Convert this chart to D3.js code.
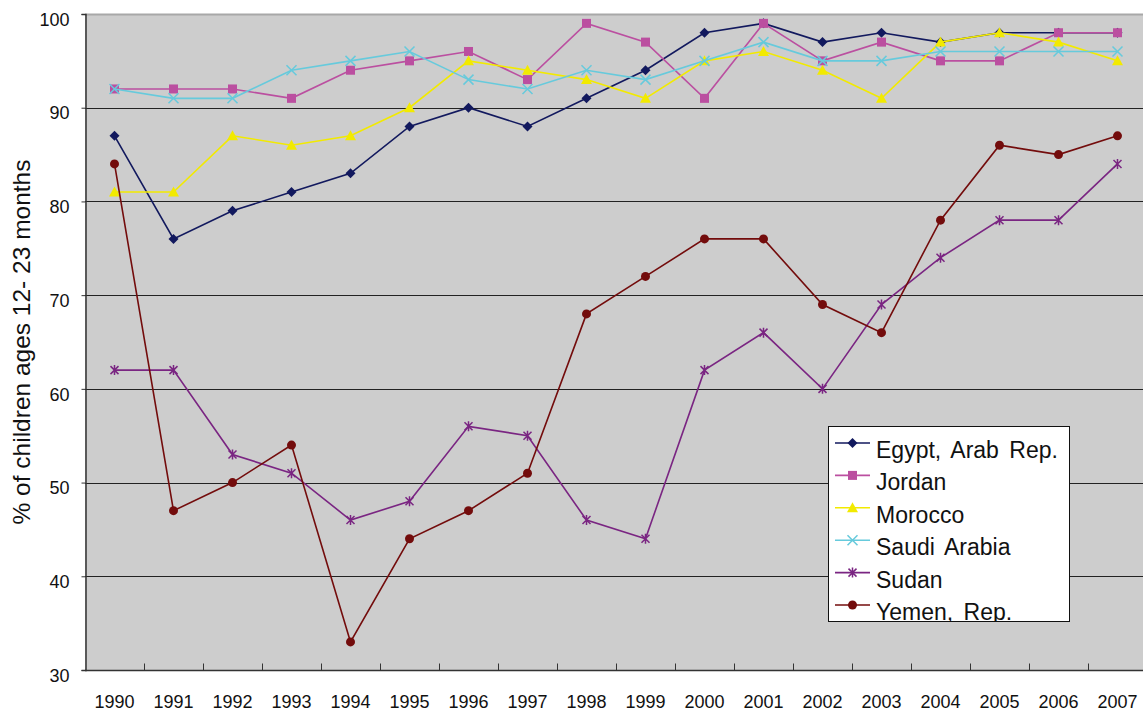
<!DOCTYPE html>
<html>
<head>
<meta charset="utf-8">
<script src="https://cdn.jsdelivr.net/npm/d3@7"></script>
<style>
  body { margin: 0; background: #fff; }
  svg { display: block; font-family: Arial, "Liberation Sans", sans-serif; }
</style>
</head>
<body>
<svg width="1143" height="711"></svg>
<script>
// data
const years = ['1990','1991','1992','1993','1994','1995','1996','1997','1998',
               '1999','2000','2001','2002','2003','2004','2005','2006','2007'];
const egypt   = [87, 76, 79, 81, 83, 88, 90, 88, 91, 94, 98, 99, 97, 98, 97, 98, 98, 98];
const jordan  = [92, 92, 92, 91, 94, 95, 96, 93, 99, 97, 91, 99, 95, 97, 95, 95, 98, 98];
const morocco = [81, 81, 87, 86, 87, 90, 95, 94, 93, 91, 95, 96, 94, 91, 97, 98, 97, 95];
const saudi   = [92, 91, 91, 94, 95, 96, 93, 92, 94, 93, 95, 97, 95, 95, 96, 96, 96, 96];
const sudan   = [62, 62, 53, 51, 46, 48, 56, 55, 46, 44, 62, 66, 60, 69, 74, 78, 78, 84];
const yemen   = [84, 47, 50, 54, 33, 44, 47, 51, 68, 72, 76, 76, 69, 66, 78, 86, 85, 87];
const yTicks  = [30, 40, 50, 60, 70, 80, 90, 100];

const series = [
  { name: 'Egypt, Arab Rep.', values: egypt,   color: '#12195e', marker: 'diamond' },
  { name: 'Jordan',           values: jordan,  color: '#bb4fa0', marker: 'square' },
  { name: 'Morocco',          values: morocco, color: '#f2ea00', marker: 'triangle' },
  { name: 'Saudi Arabia',     values: saudi,   color: '#66cadc', marker: 'cross' },
  { name: 'Sudan',            values: sudan,   color: '#7a2582', marker: 'star' },
  { name: 'Yemen, Rep.',      values: yemen,   color: '#730c0c', marker: 'circle' }
];

const svg = d3.select('svg');
const margin = { left: 85, top: 14, right: -4, bottom: 41 };
const W = 1143, H = 711;
const FONT = 'Arial, "Liberation Sans", sans-serif';

const x = d3.scaleBand().domain(years).range([margin.left, W - margin.right]);
const y = d3.scaleLinear().domain([30, 100]).range([H - margin.bottom, margin.top]);

// plot background
svg.append('rect')
  .attr('x', margin.left).attr('y', margin.top)
  .attr('width', W - margin.right - margin.left)
  .attr('height', y(30) - y(100))
  .attr('fill', '#cdcdcd');

// gridlines
svg.append('g')
  .selectAll('line')
  .data(yTicks.filter(d => d > 30))
  .join('line')
  .attr('x1', margin.left).attr('x2', W)
  .attr('y1', d => Math.round(y(d)) + 0.5).attr('y2', d => Math.round(y(d)) + 0.5)
  .attr('stroke', d => d === 100 ? '#a8a8a8' : '#222')
  .attr('stroke-width', d => d === 100 ? 2 : 1);

// y axis
const yAxis = svg.append('g')
  .attr('transform', `translate(${margin.left + 0.5},0)`)
  .call(d3.axisLeft(y).tickValues(yTicks).tickSize(4).tickPadding(12));
yAxis.attr('font-family', FONT).attr('font-size', 18);
yAxis.select('.domain').attr('stroke', '#333').attr('stroke-width', 1.5);
yAxis.selectAll('.tick line').attr('stroke', '#333');
yAxis.selectAll('text').attr('fill', '#111').attr('dy', '0.62em');

// x axis, ticks between categories pointing up
const xAxisY = Math.round(y(30)) + 0.5;
svg.append('line')
  .attr('x1', margin.left).attr('x2', W)
  .attr('y1', xAxisY).attr('y2', xAxisY)
  .attr('stroke', '#333').attr('stroke-width', 1.5);
svg.append('g')
  .selectAll('line')
  .data(years.slice(1))
  .join('line')
  .attr('x1', d => Math.round(x(d)) + 0.5).attr('x2', d => Math.round(x(d)) + 0.5)
  .attr('y1', xAxisY).attr('y2', xAxisY - 7)
  .attr('stroke', '#333');
svg.append('g')
  .selectAll('text')
  .data(years)
  .join('text')
  .attr('x', d => x(d) + x.bandwidth() / 2)
  .attr('y', 708)
  .attr('text-anchor', 'middle')
  .attr('font-size', 18)
  .attr('fill', '#111')
  .text(d => d);

// y axis title
svg.append('text')
  .attr('transform', `translate(30,${(y(30) + y(100)) / 2}) rotate(-90)`)
  .attr('text-anchor', 'middle')
  .attr('font-size', 24.5)
  .attr('fill', '#111')
  .text('% of children ages 12- 23 months');

// marker drawing
function drawMarker(g, type, color) {
  if (type === 'diamond') {
    g.append('path').attr('d', 'M0,-5L5,0L0,5L-5,0Z').attr('fill', color);
  } else if (type === 'square') {
    g.append('rect').attr('x', -4.5).attr('y', -4.5).attr('width', 9).attr('height', 9).attr('fill', color);
  } else if (type === 'triangle') {
    g.append('path').attr('d', 'M0,-5.5L5.5,4.5L-5.5,4.5Z').attr('fill', color);
  } else if (type === 'cross') {
    g.append('path').attr('d', 'M-5,-5L5,5M-5,5L5,-5').attr('stroke', color).attr('stroke-width', 1.5);
  } else if (type === 'star') {
    g.append('path').attr('d', 'M-4,-4L4,4M-4,4L4,-4M0,-5L0,5').attr('stroke', color).attr('stroke-width', 1.5);
  } else if (type === 'circle') {
    g.append('circle').attr('r', 4.5).attr('fill', color);
  }
}

const cx = d => x(d) + x.bandwidth() / 2;
const line = d3.line().x((v, i) => cx(years[i])).y(v => y(v));

const lines = svg.append('g');
series.forEach(s => {
  lines.append('path')
    .attr('d', line(s.values))
    .attr('fill', 'none')
    .attr('stroke', s.color)
    .attr('stroke-width', 1.6);
  s.values.forEach((v, i) => {
    const g = lines.append('g').attr('transform', `translate(${cx(years[i])},${y(v)})`);
    drawMarker(g, s.marker, s.color);
  });
});

// legend (last entry is cut off by the box, as in the original)
const legend = svg.append('g').attr('transform', 'translate(828,426)');
svg.append('clipPath').attr('id', 'legclip')
  .append('rect').attr('width', 241).attr('height', 195);
legend.append('rect')
  .attr('x', 0.5).attr('y', 0.5)
  .attr('width', 241).attr('height', 195)
  .attr('fill', '#fff').attr('stroke', '#111');
const items = legend.append('g').attr('clip-path', 'url(#legclip)');
series.forEach((s, i) => {
  const ly = 17 + i * 32.4;
  items.append('line')
    .attr('x1', 7).attr('x2', 42).attr('y1', ly).attr('y2', ly)
    .attr('stroke', s.color).attr('stroke-width', 1.6);
  const g = items.append('g').attr('transform', `translate(24.5,${ly})`);
  drawMarker(g, s.marker, s.color);
  items.append('text')
    .attr('x', 48).attr('y', ly + 15)
    .attr('font-size', 23)
    .attr('fill', '#111')
    .attr('word-spacing', 4)
    .text(s.name);
});
</script>
</body>
</html>
